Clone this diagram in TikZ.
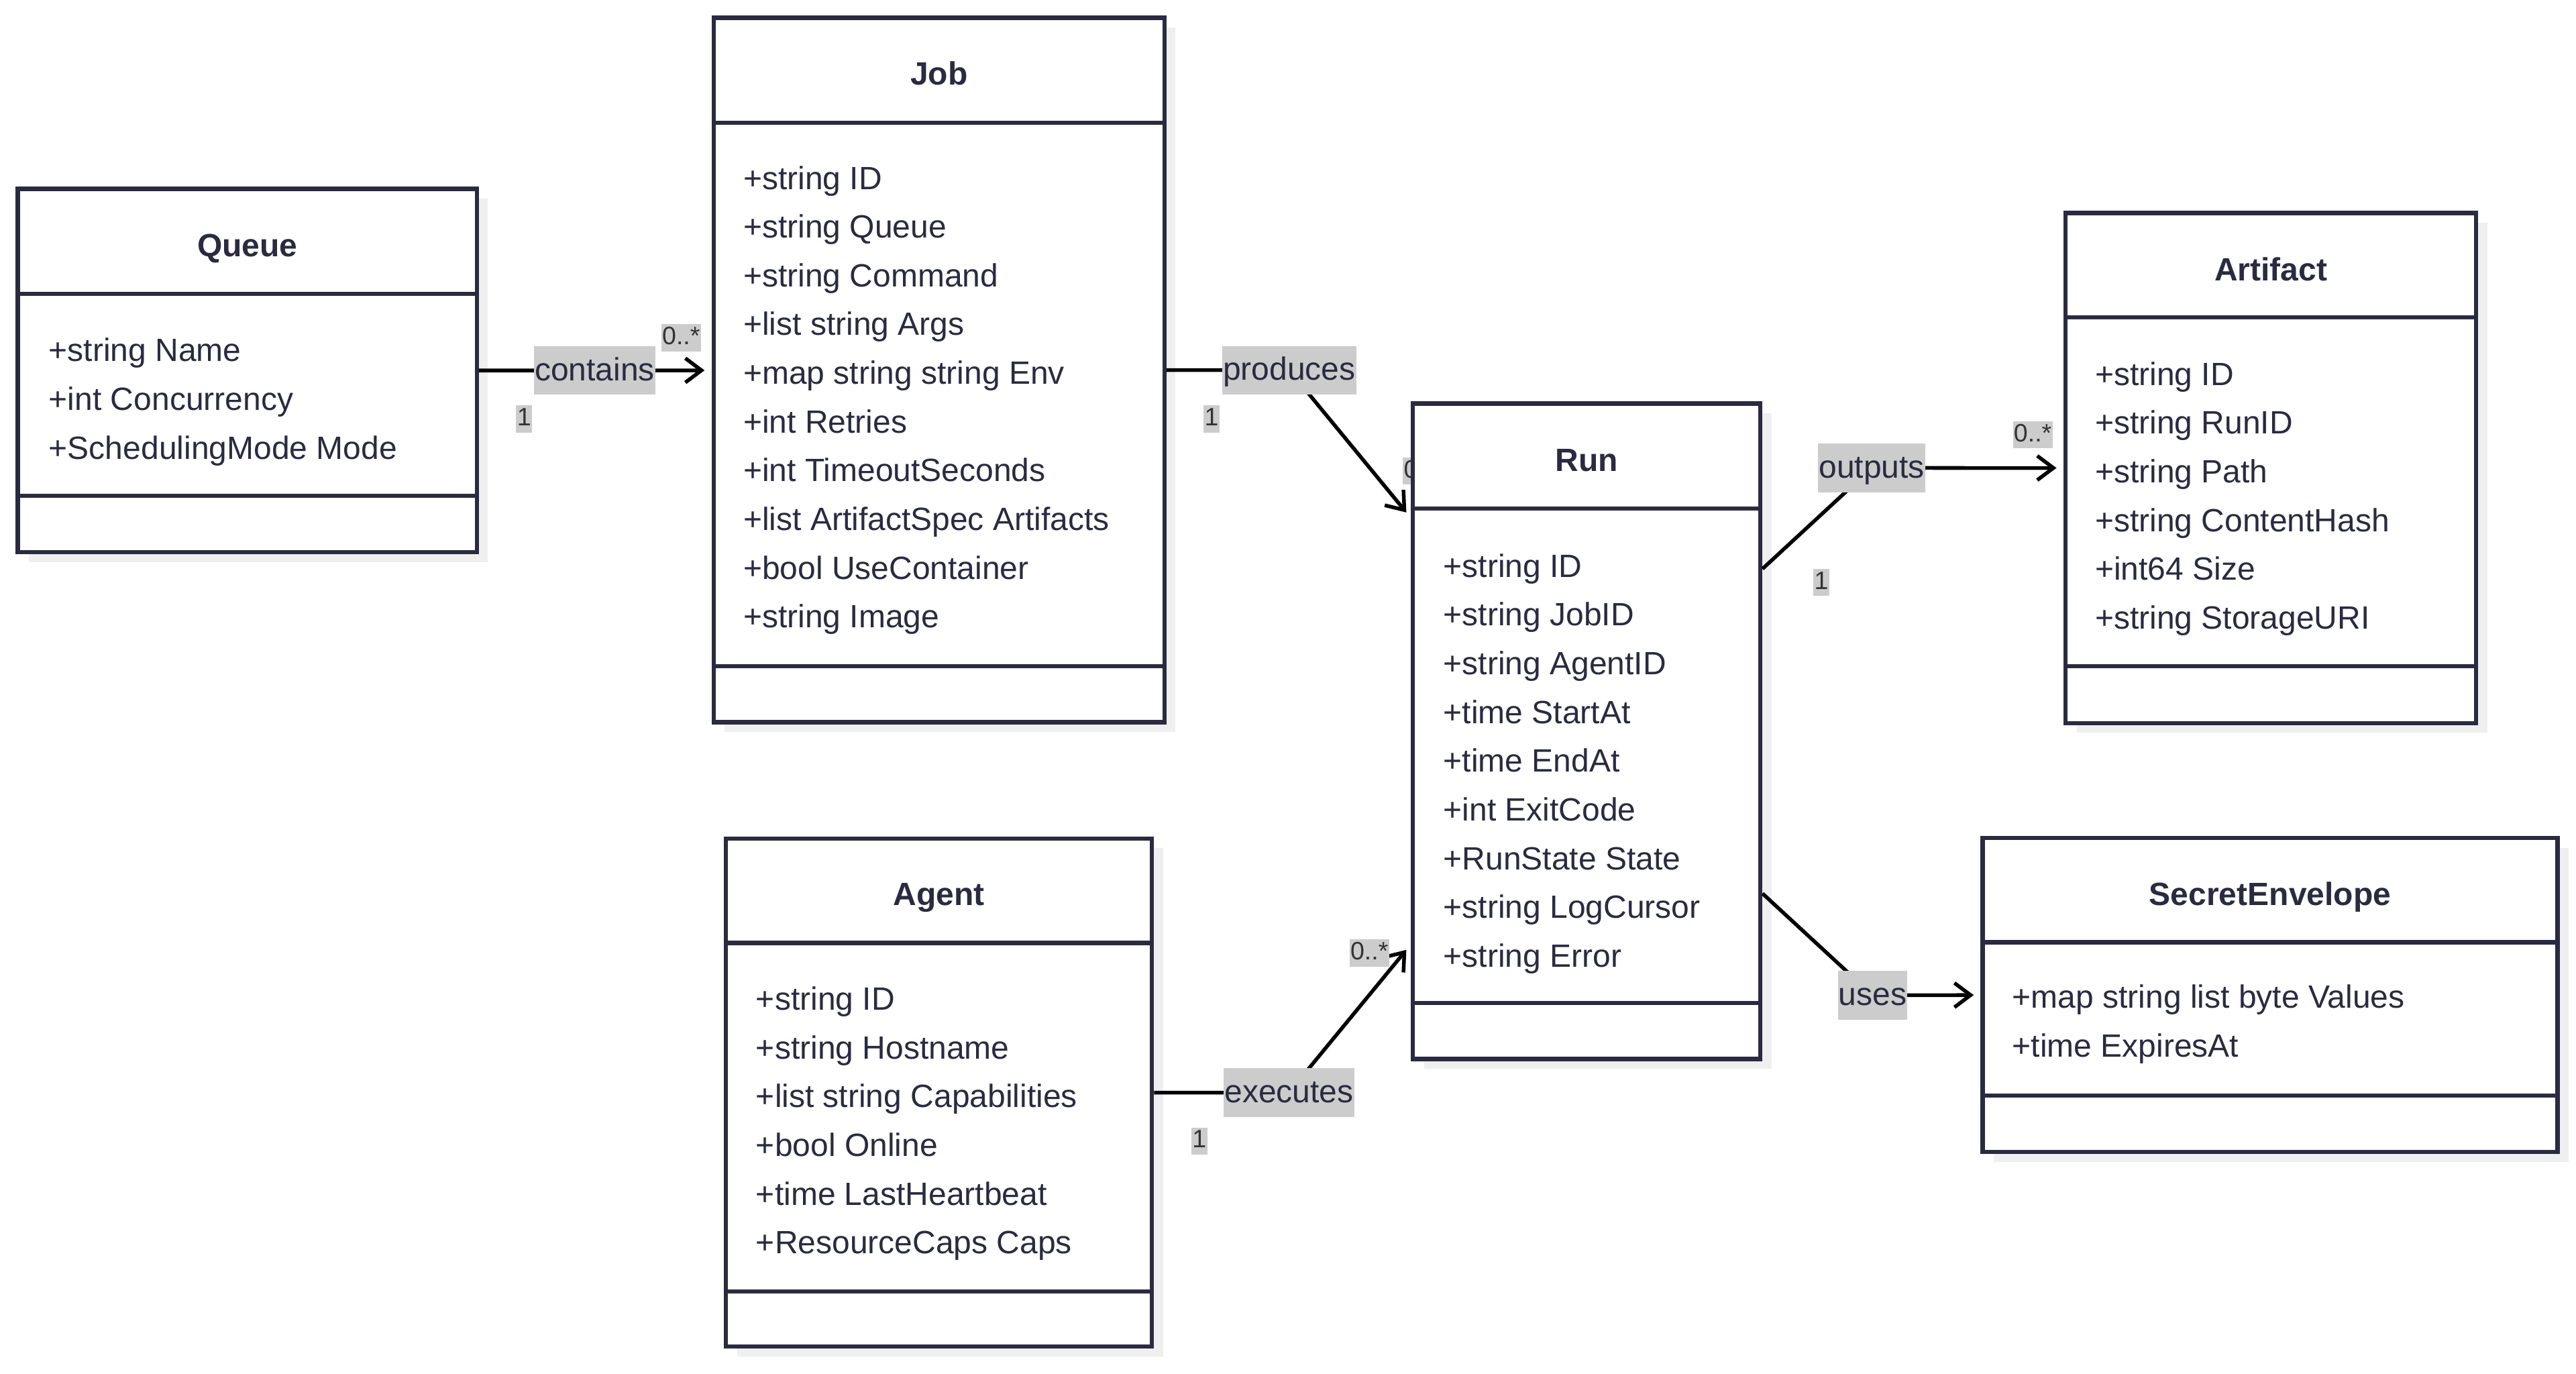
\documentclass[tikz,border=0pt]{standalone}
\usepackage{fontspec}
\setmainfont{Liberation Sans}
\usetikzlibrary{arrows.meta,shadows}
\definecolor{ink}{HTML}{2A2A40}
\definecolor{tag}{HTML}{CCCCCC}
\definecolor{dropgray}{HTML}{EFEFEF}
\definecolor{multink}{HTML}{333333}
\newcommand{\attrfont}{\fontsize{13.94pt}{16pt}\selectfont}
\newcommand{\multfont}{\fontsize{10.9pt}{12pt}\selectfont}

\begin{document}
\begin{tikzpicture}[x=0.025cm, y=-0.025cm,
    classbox/.style={draw=ink, line width=1.8pt, fill=white, inner sep=0pt,
      drop shadow={shadow xshift=0.17cm, shadow yshift=-0.15cm, fill=dropgray, opacity=1}},
    classline/.style={draw=ink, line width=1.8pt},
    classname/.style={anchor=base, text=ink, font=\attrfont\bfseries, inner sep=0pt},
    attr/.style={anchor=base west, text=ink, font=\attrfont, inner sep=0pt},
    conn/.style={draw=black, line width=1.6pt, -{Straight Barb[length=7pt,width=10.5pt]}, shorten >=3pt},
    elabel/.style={fill=tag, text=ink, font=\attrfont, inner xsep=0.3pt, inner ysep=0pt, text height=14.9pt, text depth=6.1pt},
    mult/.style={fill=tag, text=multink, font=\multfont, inner xsep=0.4pt, inner ysep=0pt, text height=8.8pt, text depth=2.9pt}]
  \useasboundingbox (0,0) rectangle (1568,836.27);

  % run end of produces, hidden under the run box
  \node[mult] (produces-dst) at (866,286.7) {0..*};

  % queue
  \node[classbox, minimum width=6.983cm, minimum height=5.525cm] (queue) at (150.55,225.5) {};
  \draw[classline] (10.9,178.7) -- (290.2,178.7) (10.9,301.8) -- (290.2,301.8);
  \node[classname] (queue-name) at (150.55,156) {Queue};
  \foreach \t [count=\i from 0] in {+string Name, +int Concurrency, +SchedulingMode Mode}
    \node[attr] (queue-attr-\i) at (29.5,220+29.65*\i) {\t};

  % job
  \node[classbox, minimum width=6.858cm, minimum height=10.715cm] (job) at (571.55,225.2) {};
  \draw[classline] (434.4,74.8) -- (708.7,74.8) (434.4,405.5) -- (708.7,405.5);
  \node[classname] (job-name) at (571.55,51.5) {Job};
  \foreach \t [count=\i from 0] in {+string ID, +string Queue, +string Command, +list string Args,
      +map string string Env, +int Retries, +int TimeoutSeconds, +list ArtifactSpec Artifacts,
      +bool UseContainer, +string Image}
    \node[attr] (job-attr-\i) at (452.2,115.2+29.65*\i) {\t};

  % run
  \node[classbox, minimum width=5.288cm, minimum height=9.97cm] (run) at (965.75,445.1) {};
  \draw[classline] (860,309.4) -- (1071.5,309.4) (860,610.5) -- (1071.5,610.5);
  \node[classname] (run-name) at (965.75,286.7) {Run};
  \foreach \t [count=\i from 0] in {+string ID, +string JobID, +string AgentID, +time StartAt,
      +time EndAt, +int ExitCode, +RunState State, +string LogCursor, +string Error}
    \node[attr] (run-attr-\i) at (878.3,351.3+29.65*\i) {\t};

  % artifact
  \node[classbox, minimum width=6.248cm, minimum height=7.758cm] (artifact) at (1382.25,284.85) {};
  \draw[classline] (1257.3,193.3) -- (1507.2,193.3) (1257.3,405.4) -- (1507.2,405.4);
  \node[classname] (artifact-name) at (1382.25,170.8) {Artifact};
  \foreach \t [count=\i from 0] in {+string ID, +string RunID, +string Path, +string ContentHash,
      +int64 Size, +string StorageURI}
    \node[attr] (artifact-attr-\i) at (1275,234.5+29.65*\i) {\t};

  % agent
  \node[classbox, minimum width=6.483cm, minimum height=7.733cm] (agent) at (571.55,664.95) {};
  \draw[classline] (441.9,573.9) -- (701.2,573.9) (441.9,786) -- (701.2,786);
  \node[classname] (agent-name) at (571.55,551) {Agent};
  \foreach \t [count=\i from 0] in {+string ID, +string Hostname, +list string Capabilities,
      +bool Online, +time LastHeartbeat, +ResourceCaps Caps}
    \node[attr] (agent-attr-\i) at (459.9,614.8+29.65*\i) {\t};

  % secret envelope
  \node[classbox, minimum width=8.745cm, minimum height=4.775cm] (secret) at (1381.8,605.5) {};
  \draw[classline] (1206.9,573.5) -- (1556.7,573.5) (1206.9,666.8) -- (1556.7,666.8);
  \node[classname] (secret-name) at (1381.8,551) {SecretEnvelope};
  \foreach \t [count=\i from 0] in {+map string list byte Values, +time ExpiresAt}
    \node[attr] (secret-attr-\i) at (1224.6,613.7+29.65*\i) {\t};

  % bends, where the labels sit
  \coordinate (contains-at) at (362,225.5);
  \coordinate (produces-at) at (784.8,225.3);
  \coordinate (outputs-at) at (1139.3,284.8);
  \coordinate (uses-at) at (1139.8,605.7);
  \coordinate (executes-at) at (784.6,665);

  % associations
  \draw[conn] (queue) -- (contains-at) node[elabel] (contains) {contains} -- (job);
  \draw[conn] (job) -- (produces-at) node[elabel] (produces) {produces} -- (run);
  \draw[conn] (run) -- (outputs-at) node[elabel] (outputs) {outputs} -- (artifact);
  \draw[conn] (run) -- (uses-at) node[elabel] (uses) {uses} -- (secret);
  \draw[conn] (agent) -- (executes-at) node[elabel] (executes) {executes} -- (run);

  % multiplicities
  \node[mult] (contains-src) at (319,255) {1};
  \node[mult] (contains-dst) at (414.6,205.6) {0..*};
  \node[mult] (produces-src) at (737.5,255) {1};
  \node[mult] (outputs-src) at (1108.6,354.5) {1};
  \node[mult] (outputs-dst) at (1237.3,264.7) {0..*};
  \node[mult] (executes-src) at (730,694.5) {1};
  \node[mult] (executes-dst) at (833.5,580) {0..*};
\end{tikzpicture}
\end{document}
